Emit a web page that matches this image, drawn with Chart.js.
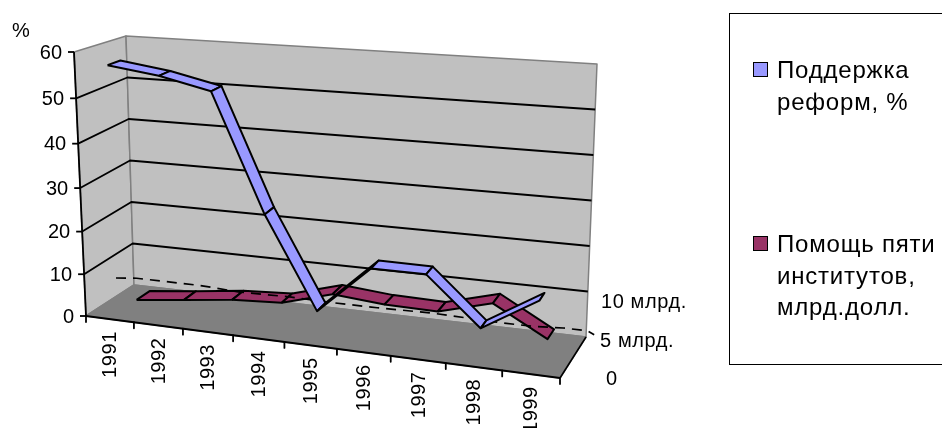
<!DOCTYPE html>
<html>
<head>
<meta charset="utf-8">
<script src="https://cdn.jsdelivr.net/npm/chart.js@4"></script>
<style>
  html, body { margin: 0; padding: 0; background: #fff; overflow: hidden; }
  #wrap { position: relative; width: 942px; height: 428px; overflow: hidden; }
  canvas { display: block; }
  #legendBox {
    position: absolute; left: 729px; top: 13px; width: 240px; height: 352px;
    border: 1.6px solid #000; box-sizing: border-box;
    font: 24px "Liberation Sans", Arial, sans-serif; letter-spacing: 0.8px; color: #000; line-height: 31.5px;
  }
  .item { position: absolute; left: 47px; white-space: nowrap; }
  .swatch { position: absolute; left: -24px; top: 8px; width: 14.5px; height: 14.5px; border: 1.6px solid #000; box-sizing: border-box; }
</style>
</head>
<body>
<div id="wrap">
  <canvas id="chart" width="942" height="428"></canvas>
  <div id="legendBox">
    <div class="item" style="top:40px"><span class="swatch" style="background:#9999FF"></span>Поддержка<br>реформ, %</div>
    <div class="item" style="top:214px"><span class="swatch" style="background:#993366"></span>Помощь пяти<br>институтов,<br>млрд.долл.</div>
  </div>
</div>
<script>
const years = ['1991', '1992', '1993', '1994', '1995', '1996', '1997', '1998', '1999']
const supportValues = [57, 55.5, 53, 27, 6.5, 17.5, 17.5, 7, 14.5]
const aidValues = [0.3, 1.6, 3, 3.7, 7, 6, 5.8, 9, 2.5]
// dashed trace along the back wall: category position (fraction of the axis) and height
const dashPositions = [-0.044, 0.007, 0.064, 0.16, 0.254, 0.369, 0.466, 0.564, 0.685, 0.757, 0.826, 0.893, 0.954, 1.002, 1.016]
const dashValues = [1.2, 1.7, 1.7, 1.7, 1.2, 1.4, 1.2, 1.2, 1.4, 1.2, 1, 1, 1.4, 1.4, 0.7]
const valueTicks = [0, 10, 20, 30, 40, 50, 60]
const depthLabels = ['0', '5 млрд.', '10 млрд.']

const VALUE_MAX = 60

// corners of the 3D box in canvas units
const box = {
    frontBottomLeft: [86, 316], frontTopLeft: [74, 52],
    backBottomLeft: [134, 285], backTopLeft: [126, 36],
    frontBottomRight: [560, 378], frontTopRight: [578, 89],
    backBottomRight: [586, 337], backTopRight: [597, 64]
}

const lerp = (a, b, t) => [a[0] + (b[0] - a[0]) * t, a[1] + (b[1] - a[1]) * t]
const warp = (t, a) => a * t / (1 + (a - 1) * t)

// u along the categories, v up the value axis, d into the depth (all 0..1)
function project(u, v, d) {
    const s = warp(u, 0.9)
    const h = warp(v, 0.94 + 0.06 * d)
    const fb = lerp(box.frontBottomLeft, box.frontBottomRight, s)
    const ft = lerp(box.frontTopLeft, box.frontTopRight, s)
    const bb = lerp(box.backBottomLeft, box.backBottomRight, s)
    const bt = lerp(box.backTopLeft, box.backTopRight, s)
    const p = lerp(lerp(fb, ft, h), lerp(bb, bt, h), d)
    return { x: p[0], y: p[1] }
}

const catU = i => (i + 0.5) / years.length

const datasets = []
function shape(points, fillColor, borderColor, borderWidth, dash) {
    datasets.push({
        data: points,
        showLine: true,
        pointRadius: 0,
        tension: 0,
        borderColor,
        borderWidth,
        borderDash: dash || [],
        backgroundColor: fillColor || 'transparent',
        fill: fillColor ? 'shape' : false,
        borderJoinStyle: 'round',
        clip: false,
        order: -datasets.length
    })
}

// the ribbons get narrower in depth towards the right of the picture
function ribbon(values, d1, d2, taper, color) {
    const near = u => d1 + taper * u / 2
    const far = u => d2 - taper * u / 2
    for (let i = 0; i < values.length - 1; i++) {
        const a = values[i] / VALUE_MAX
        const b = values[i + 1] / VALUE_MAX
        const u0 = catU(i)
        const u1 = catU(i + 1)
        shape([project(u0, a, near(u0)), project(u1, b, near(u1)), project(u1, b, far(u1)), project(u0, a, far(u0)), project(u0, a, near(u0))], color, '#000', 2)
    }
}

// walls and floor
const GRAY_WALL = '#C0C0C0'
const GRAY_FLOOR = '#808080'
shape([project(0, 0, 0), project(0, 1, 0), project(0, 1, 1), project(0, 0, 1), project(0, 0, 0)], GRAY_WALL, GRAY_FLOOR, 1.5)
shape([project(0, 0, 1), project(0, 1, 1), project(1, 1, 1), project(1, 0, 1), project(0, 0, 1)], GRAY_WALL, GRAY_FLOOR, 1.5)
shape([project(0, 0, 0), project(1, 0, 0), project(1, 0, 1), project(0, 0, 1), project(0, 0, 0)], GRAY_FLOOR, GRAY_FLOOR, 1.5)

// gridlines on both walls
valueTicks.slice(1, -1).forEach(t => {
    const v = t / VALUE_MAX
    shape([project(0, v, 0), project(0, v, 1), project(1, v, 1)], null, '#000', 1.8)
})

// axis lines and tick marks
shape([project(0, 0, 0), project(0, 1, 0)], null, '#000', 1.8)
shape([project(0, 0, 0), project(1, 0, 0)], null, '#000', 1.8)
shape([project(1, 0, 0), project(1, 0, 1)], null, '#000', 1.6)
valueTicks.forEach(t => {
    const p = project(0, t / VALUE_MAX, 0)
    shape([p, { x: p.x - 6, y: p.y }], null, '#000', 1.8)
})
for (let i = 0; i <= years.length; i++) {
    const p = project(i / years.length, 0, 0)
    shape([p, { x: p.x, y: p.y + 6 }], null, '#000', 1.8)
}

ribbon(aidValues, 0.57, 0.85, 0.04, '#993366')
shape(dashPositions.map((u, i) => project(u, dashValues[i] / VALUE_MAX, 1)), null, '#000', 1.7, [10, 7])
ribbon(supportValues, 0.15, 0.41, 0.07, '#9999FF')

// tick labels sit on the slanted axes, so they are placed through the same projection
const axisLabels = {
    id: 'axisLabels',
    afterDatasetsDraw(chart) {
        const { ctx, scales } = chart
        const px = p => [scales.x.getPixelForValue(p.x), scales.y.getPixelForValue(p.y)]
        ctx.save()
        ctx.fillStyle = '#000'
        ctx.font = '20px "Liberation Sans", Arial, sans-serif'
        ctx.textBaseline = 'middle'

        ctx.textAlign = 'right'
        valueTicks.forEach(t => {
            const [x, y] = px(project(0, t / VALUE_MAX, 0))
            ctx.fillText(String(t), x - 12, y + 1)
        })
        ctx.textAlign = 'left'
        ctx.fillText('%', 12, 31)

        ctx.letterSpacing = '0.6px'
        years.forEach((label, i) => {
            const [x, y] = px(project(catU(i), 0, 0))
            ctx.save()
            ctx.translate(x + 1, y + 12)
            ctx.rotate(-Math.PI / 2)
            ctx.textAlign = 'right'
            ctx.fillText(label, 0, 0)
            ctx.restore()
        })

        const depthY = [379, 341, 302]
        const depthX = [606, 600, 601]
        depthLabels.forEach((label, i) => ctx.fillText(label, depthX[i], depthY[i]))
        ctx.restore()
    }
}

new Chart(document.getElementById('chart'), {
    type: 'scatter',
    data: { datasets },
    options: {
        responsive: false,
        animation: false,
        layout: { padding: 0 },
        plugins: { legend: { display: false }, tooltip: { enabled: false } },
        scales: {
            x: { type: 'linear', display: false, min: 0, max: 942 },
            y: { type: 'linear', display: false, min: 0, max: 428, reverse: true }
        }
    },
    plugins: [axisLabels]
})
</script>
</body>
</html>
